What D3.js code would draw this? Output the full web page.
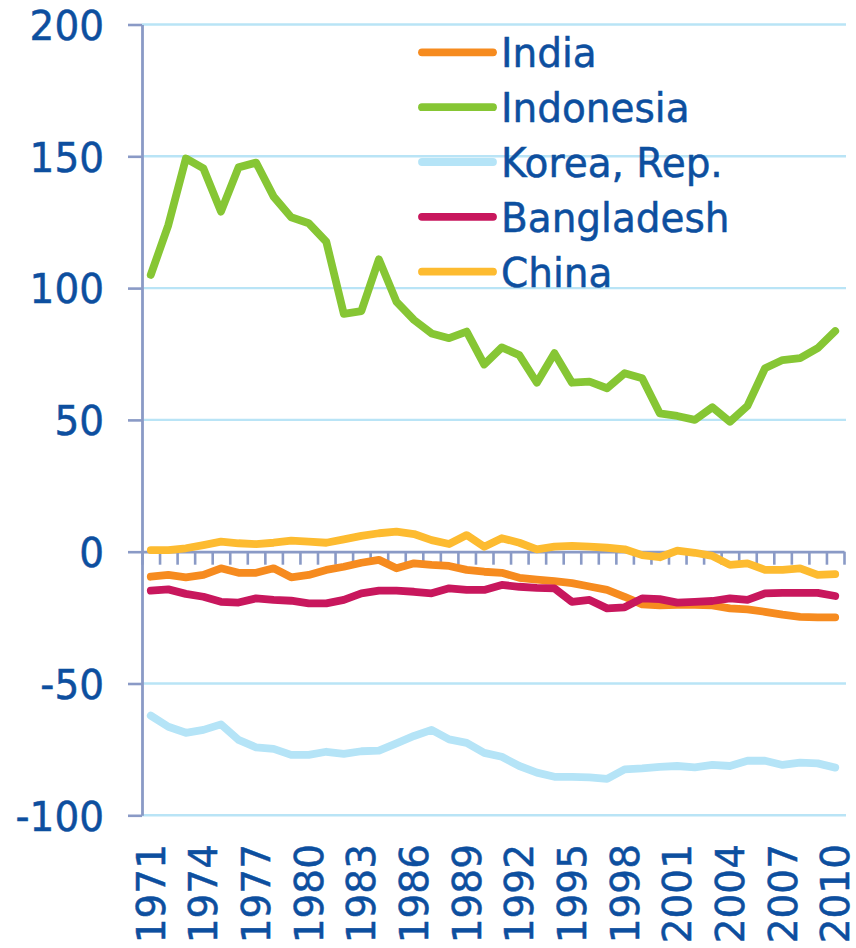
<!DOCTYPE html>
<html>
<head>
<meta charset="utf-8">
<script src="https://cdn.jsdelivr.net/npm/d3@7"></script>
<style>
  html, body { margin: 0; padding: 0; background: #ffffff; }
  svg { display: block; }
  text { font-family: "DejaVu Sans", Verdana, sans-serif; }
</style>
</head>
<body>
<svg id="chart" width="856" height="948"></svg>
<script>
const years = d3.range(1971, 2011);
const yTicks = [-100, -50, 0, 50, 100, 150, 200];
const xLabelYears = d3.range(1971, 2011, 3);

const seriesNames = ["India", "Indonesia", "Korea, Rep.", "Bangladesh", "China"];
const seriesColors = ["#f68b1f", "#86c634", "#b5e4f7", "#c8175d", "#fdbb30"];

const india = [-9.5, -8.8, -9.7, -8.8, -6.3, -8.0, -8.0, -6.3, -9.7, -8.8,
  -6.9, -5.7, -4.2, -3.1, -6.3, -4.4, -5.0, -5.4, -6.9, -7.6,
  -8.0, -9.9, -10.6, -11.2, -11.9, -13.2, -14.5, -17.1, -20.0, -20.4,
  -20.2, -20.2, -20.4, -21.5, -21.9, -22.8, -23.9, -24.7, -24.9, -24.9];
const indonesia = [105.0, 123.9, 149.2, 145.4, 129.0, 145.8, 147.6, 134.7, 126.9, 124.6,
  117.6, 90.2, 91.3, 110.9, 94.8, 87.9, 82.8, 81.0, 83.5, 71.0,
  77.5, 74.6, 64.1, 75.3, 64.1, 64.5, 62.0, 67.7, 65.8, 52.5,
  51.5, 50.0, 54.8, 49.3, 55.3, 69.6, 72.7, 73.4, 77.2, 83.7];
const korea = [-62.2, -66.4, -68.7, -67.6, -65.5, -71.4, -74.2, -74.8, -77.1, -77.1,
  -75.9, -76.7, -75.7, -75.5, -72.7, -69.9, -67.6, -71.2, -72.5, -76.3,
  -77.8, -81.3, -83.8, -85.4, -85.4, -85.6, -86.2, -82.6, -82.2, -81.6,
  -81.3, -81.8, -80.9, -81.3, -79.3, -79.3, -80.9, -80.0, -80.3, -81.9];
const bangladesh = [-14.8, -14.3, -16.0, -17.1, -19.0, -19.3, -17.7, -18.3, -18.6, -19.6,
  -19.6, -18.3, -15.8, -14.8, -14.8, -15.2, -15.8, -13.9, -14.5, -14.5,
  -12.6, -13.3, -13.7, -13.9, -19.0, -18.3, -21.5, -21.1, -17.7, -18.0,
  -19.3, -19.0, -18.7, -17.7, -18.3, -15.8, -15.6, -15.6, -15.6, -16.8];
const china = [0.6, 0.6, 1.3, 2.5, 3.8, 3.2, 2.9, 3.4, 4.2, 3.8,
  3.4, 4.7, 6.0, 7.0, 7.6, 6.7, 4.4, 2.9, 6.3, 1.9,
  5.1, 3.4, 0.9, 1.9, 2.2, 1.9, 1.5, 0.9, -1.3, -2.1,
  0.4, -0.4, -1.6, -5.0, -4.4, -6.9, -6.9, -6.3, -8.8, -8.5];

const seriesValues = [india, indonesia, korea, bangladesh, china];

const textColor = "#0d4f9f";
const axisColor = "#8a9ac6";
const gridColor = "#b9e4f6";
const fontSize = 39;
const textStroke = 0.5;

const svg = d3.select("#chart");
const plotLeft = 142, plotRight = 844, plotTop = 24.5, plotBottom = 815.3;

const x = d3.scaleBand().domain(years).range([plotLeft, plotRight]).padding(0);
const xEdge = d3.scaleLinear().domain([0, years.length]).range([plotLeft, plotRight]);
const y = d3.scaleLinear().domain([-100, 200]).range([plotBottom, plotTop]);

// gridlines
svg.append("g").selectAll("line")
  .data(yTicks.filter(v => v !== 0))
  .join("line")
  .attr("x1", plotLeft).attr("x2", plotRight + 2)
  .attr("y1", d => y(d)).attr("y2", d => y(d))
  .attr("stroke", gridColor).attr("stroke-width", 2.4);

// y axis
const yAxis = svg.append("g")
  .attr("transform", `translate(${plotLeft},0)`)
  .call(d3.axisLeft(y).tickValues(yTicks).tickSize(14).tickSizeOuter(0).tickPadding(24).tickFormat(d => String(d)));
yAxis.select(".domain").attr("stroke", axisColor).attr("stroke-width", 2.8);
yAxis.selectAll(".tick line").attr("stroke", axisColor).attr("stroke-width", 2.6);
yAxis.selectAll(".tick text")
  .attr("fill", textColor)
  .attr("stroke", textColor)
  .attr("stroke-width", textStroke)
  .style("font-size", fontSize + "px")
  .style("font-family", "'DejaVu Sans', Verdana, sans-serif")
  .attr("transform", "scale(1,1.06)")
  .attr("dy", "0.36em");

// x axis line at zero with boundary ticks
const xAxis = svg.append("g")
  .attr("transform", `translate(0,${y(0)})`)
  .call(d3.axisBottom(xEdge).tickValues(d3.range(years.length + 1)).tickSize(13).tickSizeOuter(0).tickFormat(""));
xAxis.select(".domain").attr("stroke", axisColor).attr("stroke-width", 2.8);
xAxis.selectAll(".tick line").attr("stroke", axisColor).attr("stroke-width", 2.6);

// x labels (rotated)
const xLab = svg.append("g")
  .attr("transform", `translate(0,844)`)
  .call(d3.axisBottom(x).tickValues(xLabelYears).tickSize(0).tickFormat(d => String(d)));
xLab.select(".domain").remove();
xLab.selectAll(".tick text")
  .attr("fill", textColor)
  .attr("stroke", textColor)
  .attr("stroke-width", textStroke)
  .style("font-size", fontSize + "px")
  .style("font-family", "'DejaVu Sans', Verdana, sans-serif")
  .attr("transform", "rotate(-90)")
  .attr("text-anchor", "end")
  .attr("x", 0)
  .attr("y", 0)
  .attr("dy", "0.36em");

// lines
const line = d3.line()
  .x((d, i) => x(years[i]) + x.bandwidth() / 2)
  .y(d => y(d));

svg.append("g").selectAll("path")
  .data(seriesValues)
  .join("path")
  .attr("d", d => line(d))
  .attr("fill", "none")
  .attr("stroke", (d, i) => seriesColors[i])
  .attr("stroke-width", 7.8)
  .attr("stroke-linejoin", "round")
  .attr("stroke-linecap", "round");

// legend
const legend = svg.append("g");
const legY = d3.scaleLinear().domain([0, 4]).range([52.3, 271.7]);
const entries = legend.selectAll("g")
  .data(seriesNames)
  .join("g")
  .attr("transform", (d, i) => `translate(0,${legY(i)})`);
entries.append("line")
  .attr("x1", 422).attr("x2", 493)
  .attr("y1", 0).attr("y2", 0)
  .attr("stroke", (d, i) => seriesColors[i])
  .attr("stroke-width", 7.8)
  .attr("stroke-linecap", "round");
entries.append("text")
  .attr("transform", "translate(501,0) scale(1,1.06)")
  .attr("dy", "0.36em")
  .attr("fill", textColor)
  .attr("stroke", textColor)
  .attr("stroke-width", textStroke)
  .style("font-size", fontSize + "px")
  .text(d => d);
</script>
</body>
</html>
